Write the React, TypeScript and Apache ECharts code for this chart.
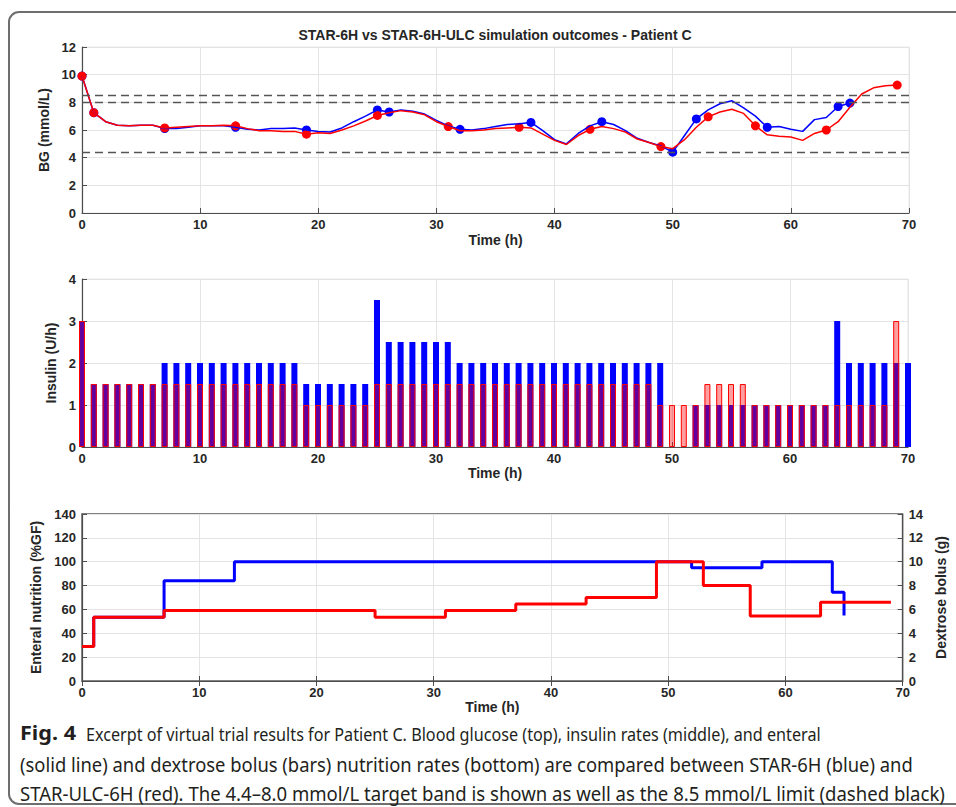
import React, { useEffect, useRef } from "react";
import * as echarts from "echarts";

// ---- Blood glucose (mmol/L), one reading per hour starting at t = 0 h ----
const bgStarUlc = [
  9.9, 7.25, 6.6, 6.35, 6.3, 6.35, 6.35, 6.15, 6.2, 6.25,
  6.3, 6.3, 6.35, 6.3, 6.1, 5.95, 5.95, 5.9, 5.9, 5.7,
  5.8, 5.75, 6.0, 6.3, 6.65, 7.05, 7.25, 7.4, 7.3, 7.1,
  6.6, 6.25, 5.95, 5.95, 6.0, 6.1, 6.15, 6.2, 6.15, 5.7,
  5.25, 4.95, 5.6, 6.05, 6.25, 6.1, 5.85, 5.35, 5.1, 4.8,
  4.65, 5.3, 6.2, 6.95, 7.3, 7.5, 7.2, 6.3, 5.65, 5.55,
  5.5, 5.25, 5.75, 6.0, 6.6, 7.65, 8.6, 9.05, 9.2, 9.25,
];
const bgStar6h = [
  9.9, 7.25, 6.6, 6.35, 6.3, 6.35, 6.35, 6.1, 6.1, 6.2,
  6.3, 6.3, 6.3, 6.2, 6.05, 6.0, 6.1, 6.1, 6.15, 6.0,
  5.9, 5.85, 6.15, 6.6, 7.0, 7.45, 7.3, 7.45, 7.35, 7.15,
  6.7, 6.3, 6.05, 6.0, 6.1, 6.25, 6.4, 6.45, 6.55, 5.95,
  5.3, 5.0, 5.75, 6.3, 6.6, 6.4, 5.95, 5.4, 5.1, 4.85,
  4.4, 5.6, 6.8, 7.45, 7.9, 8.12, 7.6, 7.0, 6.2, 6.25,
  6.05, 5.9, 6.75, 6.9, 7.7, 7.95,
];
// Hours at which a BG measurement was taken
const measureHoursUlc = [0, 1, 7, 13, 19, 25, 31, 37, 43, 49, 53, 57, 63, 69];
const measureHours6h = [0, 1, 7, 13, 19, 25, 26, 32, 38, 44, 50, 52, 58, 64, 65];
// Target band 4.4–8.0 and the 8.5 mmol/L limit
const bgLimits = [4.4, 8.0, 8.5];

// ---- Insulin (U/h), one value per hour starting at t = 0 h ----
const insulinStar6h = [
  3, 1.5, 1.5, 1.5, 1.5, 1.5, 1.5, 2, 2, 2,
  2, 2, 2, 2, 2, 2, 2, 2, 2, 1.5,
  1.5, 1.5, 1.5, 1.5, 1.5, 3.5, 2.5, 2.5, 2.5, 2.5,
  2.5, 2.5, 2, 2, 2, 2, 2, 2, 2, 2,
  2, 2, 2, 2, 2, 2, 2, 2, 2, 2,
  0, 0, 1, 1, 1, 1, 1, 1, 1, 1,
  1, 1, 1, 1, 3, 2, 2, 2, 2, 2,
  2,
];
const insulinStarUlc = [
  3, 1.5, 1.5, 1.5, 1.5, 1.5, 1.5, 1.5, 1.5, 1.5,
  1.5, 1.5, 1.5, 1.5, 1.5, 1.5, 1.5, 1.5, 1.5, 1,
  1, 1, 1, 1, 1, 1.5, 1.5, 1.5, 1.5, 1.5,
  1.5, 1.5, 1.5, 1.5, 1.5, 1.5, 1.5, 1.5, 1.5, 1.5,
  1.5, 1.5, 1.5, 1.5, 1.5, 1.5, 1.5, 1.5, 1.5, 1,
  1, 1, 1, 1.5, 1.5, 1.5, 1.5, 1, 1, 1,
  1, 1, 1, 1, 1, 1, 1, 1, 1, 3,
];

// ---- Enteral nutrition (%GF): [start hour, rate] held until the next change ----
const enteralStar6h = [
  [0, 29], [1, 53.5], [7, 84], [13, 100], [52, 95], [58, 100], [64, 74.5], [65, 55],
];
const enteralStarUlc = [
  [0, 29], [1, 53.5], [7, 59], [25, 53.5], [31, 59], [37, 64.5], [43, 70],
  [49, 100], [53, 80], [57, 54.5], [63, 66], [69, 66],
];

// ---- Texts ----
const chartTitle = "STAR-6H vs STAR-6H-ULC simulation outcomes - Patient C";
const captionLead = "Fig. 4";
const captionLines = [
  "Excerpt of virtual trial results for Patient C. Blood glucose (top), insulin rates (middle), and enteral",
  "(solid line) and dextrose bolus (bars) nutrition rates (bottom) are compared between STAR-6H (blue) and",
  "STAR-ULC-6H (red). The 4.4–8.0 mmol/L target band is shown as well as the 8.5 mmol/L limit (dashed black)",
];

const BLUE = "#0000ff";
const RED = "#ff0000";
const FONT = "'Liberation Sans', Arial, Helvetica, sans-serif";
const CAPTION_FONT = "'Noto Sans', sans-serif";
const CAPTION_SIZE = 19;
const TEXT = "#262626";
const AXIS = "#4d4d4d";
const SPLIT = "#e4e4e4";

const tickLabel = { color: TEXT, fontSize: 13, fontWeight: "bold" as const, fontFamily: FONT };
const nameText = { color: TEXT, fontSize: 14, fontWeight: "bold" as const, fontFamily: FONT };

function textWidth(text: string, weight: string) {
  const ctx = document.createElement("canvas").getContext("2d");
  if (!ctx) return text.length * CAPTION_SIZE * 0.5;
  ctx.font = `${weight} ${CAPTION_SIZE}px ${CAPTION_FONT}`;
  return ctx.measureText(text).width;
}

function timeAxis(gridIndex: number, nameGap: number) {
  return {
    type: "value",
    gridIndex,
    min: 0,
    max: 70,
    interval: 10,
    name: "Time (h)",
    nameLocation: "middle",
    nameGap,
    nameTextStyle: nameText,
    axisLine: { show: true, onZero: false, lineStyle: { color: AXIS, width: 1.2 } },
    axisTick: { show: true, inside: true, length: 5, lineStyle: { color: AXIS } },
    axisLabel: { ...tickLabel, margin: 5 },
    splitLine: { show: true, lineStyle: { color: SPLIT, width: 1 } },
  };
}

function valueAxis(gridIndex: number, max: number, interval: number, name: string, nameGap: number) {
  return {
    type: "value",
    gridIndex,
    min: 0,
    max,
    interval,
    name,
    nameLocation: "middle",
    nameGap,
    nameTextStyle: nameText,
    axisLine: { show: true, onZero: false, lineStyle: { color: AXIS, width: 1.2 } },
    axisTick: { show: true, inside: true, length: 5, lineStyle: { color: AXIS } },
    axisLabel: { ...tickLabel, margin: 6 },
    splitLine: { show: true, lineStyle: { color: SPLIT, width: 1 } },
  };
}

function buildOption() {
  // Caption lines: [text, left x, right x, centre y], each fitted to its own width
  const captionLayout: [string, number, number, number][] = [
    [captionLines[0], 86, 821, 733],
    [captionLines[1], 20, 913, 764],
    [captionLines[2], 20, 946, 794],
  ];
  const leadWidth = textWidth(captionLead, "bold");
  const captionTexts = captionLayout.map(([text, x0, x1, y]) => ({
    type: "text",
    x: x0,
    y,
    scaleX: (x1 - x0) / textWidth(text, "normal"),
    silent: true,
    style: {
      text,
      fontSize: CAPTION_SIZE,
      fontFamily: CAPTION_FONT,
      fill: "#231f20",
      align: "left",
      verticalAlign: "middle",
    },
  }));

  return {
    animation: false,
    backgroundColor: "#ffffff",
    grid: [
      { left: 82, top: 47, width: 827, height: 166, show: true, borderColor: "#e6e6e6", borderWidth: 1 },
      { left: 82, top: 279, width: 826, height: 168, show: true, borderColor: "#e6e6e6", borderWidth: 1 },
      { left: 82, top: 514, width: 827, height: 167, show: true, borderColor: "#5a5a5a", borderWidth: 1.4 },
    ],
    xAxis: [
      timeAxis(0, 20),
      timeAxis(1, 18),
      timeAxis(2, 19),
      {
        type: "value",
        gridIndex: 2,
        position: "top",
        min: 0,
        max: 70,
        interval: 10,
        axisLine: { show: false },
        axisTick: { show: true, inside: true, length: 5, lineStyle: { color: AXIS } },
        axisLabel: { show: false },
        splitLine: { show: false },
      },
    ],
    yAxis: [
      valueAxis(0, 12, 2, "BG (mmol/L)", 21),
      valueAxis(1, 4, 1, "Insulin (U/h)", 14),
      valueAxis(2, 140, 20, "Enteral nutrition (%GF)", 27),
      {
        ...valueAxis(2, 14, 2, "Dextrose bolus (g)", 15),
        position: "right",
        nameRotate: 90,
        splitLine: { show: false },
      },
    ],
    series: [
      {
        name: "STAR-6H BG",
        type: "line",
        xAxisIndex: 0,
        yAxisIndex: 0,
        data: bgStar6h.map((v, h) => [h, v]),
        showSymbol: false,
        symbol: "none",
        lineStyle: { color: BLUE, width: 1.5 },
        itemStyle: { color: BLUE },
        markLine: {
          silent: true,
          symbol: ["none", "none"],
          label: { show: false },
          lineStyle: { color: "#555555", width: 1.3, type: [8, 5] },
          data: bgLimits.map((v) => ({ yAxis: v })),
        },
      },
      {
        name: "STAR-6H-ULC BG",
        type: "line",
        xAxisIndex: 0,
        yAxisIndex: 0,
        data: bgStarUlc.map((v, h) => [h, v]),
        showSymbol: false,
        symbol: "none",
        lineStyle: { color: RED, width: 1.5 },
        itemStyle: { color: RED },
      },
      {
        name: "STAR-6H measurements",
        type: "scatter",
        xAxisIndex: 0,
        yAxisIndex: 0,
        symbolSize: 9,
        data: measureHours6h.map((h) => [h, bgStar6h[h]]),
        itemStyle: { color: BLUE, opacity: 1 },
      },
      {
        name: "STAR-6H-ULC measurements",
        type: "scatter",
        xAxisIndex: 0,
        yAxisIndex: 0,
        symbolSize: 9,
        data: measureHoursUlc.map((h) => [h, bgStarUlc[h]]),
        itemStyle: { color: RED, opacity: 1 },
      },
      {
        name: "STAR-6H insulin",
        type: "bar",
        xAxisIndex: 1,
        yAxisIndex: 1,
        barWidth: 6,
        barGap: "-100%",
        data: insulinStar6h.map((v, h) => [h, v]),
        itemStyle: { color: BLUE },
      },
      {
        name: "STAR-6H-ULC insulin",
        type: "bar",
        xAxisIndex: 1,
        yAxisIndex: 1,
        barWidth: 6,
        barGap: "-100%",
        data: insulinStarUlc.map((v, h) => [h, v]),
        itemStyle: { color: "rgba(255, 0, 0, 0.38)", borderColor: RED, borderWidth: 1 },
      },
      {
        name: "STAR-6H enteral",
        type: "line",
        xAxisIndex: 2,
        yAxisIndex: 2,
        step: "end",
        data: enteralStar6h,
        showSymbol: false,
        symbol: "none",
        lineStyle: { color: BLUE, width: 3 },
        itemStyle: { color: BLUE },
      },
      {
        name: "STAR-6H-ULC enteral",
        type: "line",
        xAxisIndex: 2,
        yAxisIndex: 2,
        step: "end",
        data: enteralStarUlc,
        showSymbol: false,
        symbol: "none",
        lineStyle: { color: RED, width: 3 },
        itemStyle: { color: RED },
      },
    ],
    graphic: [
      {
        type: "rect",
        silent: true,
        shape: { x: 9, y: 12, width: 1000, height: 792, r: 10 },
        style: { fill: "none", stroke: "#6e6e6e", lineWidth: 2 },
      },
      {
        type: "text",
        silent: true,
        x: 495,
        y: 35,
        style: {
          text: chartTitle,
          fontSize: 14,
          fontWeight: "bold",
          fontFamily: FONT,
          fill: TEXT,
          align: "center",
          verticalAlign: "middle",
        },
      },
      {
        type: "text",
        silent: true,
        x: 20,
        y: 733,
        scaleX: 56 / leadWidth,
        style: {
          text: captionLead,
          fontSize: CAPTION_SIZE,
          fontWeight: "bold",
          fontFamily: CAPTION_FONT,
          fill: "#231f20",
          align: "left",
          verticalAlign: "middle",
        },
      },
      ...captionTexts,
    ],
  };
}

export default function App() {
  const ref = useRef<HTMLDivElement>(null);
  useEffect(() => {
    if (!ref.current) return;
    const chart = echarts.init(ref.current, null, { renderer: "svg" });
    chart.setOption(buildOption() as any);
    return () => chart.dispose();
  }, []);
  return (
    <div
      ref={ref}
      style={{ position: "fixed", left: 0, top: 0, width: 956, height: 807, background: "#fff" }}
    />
  );
}
